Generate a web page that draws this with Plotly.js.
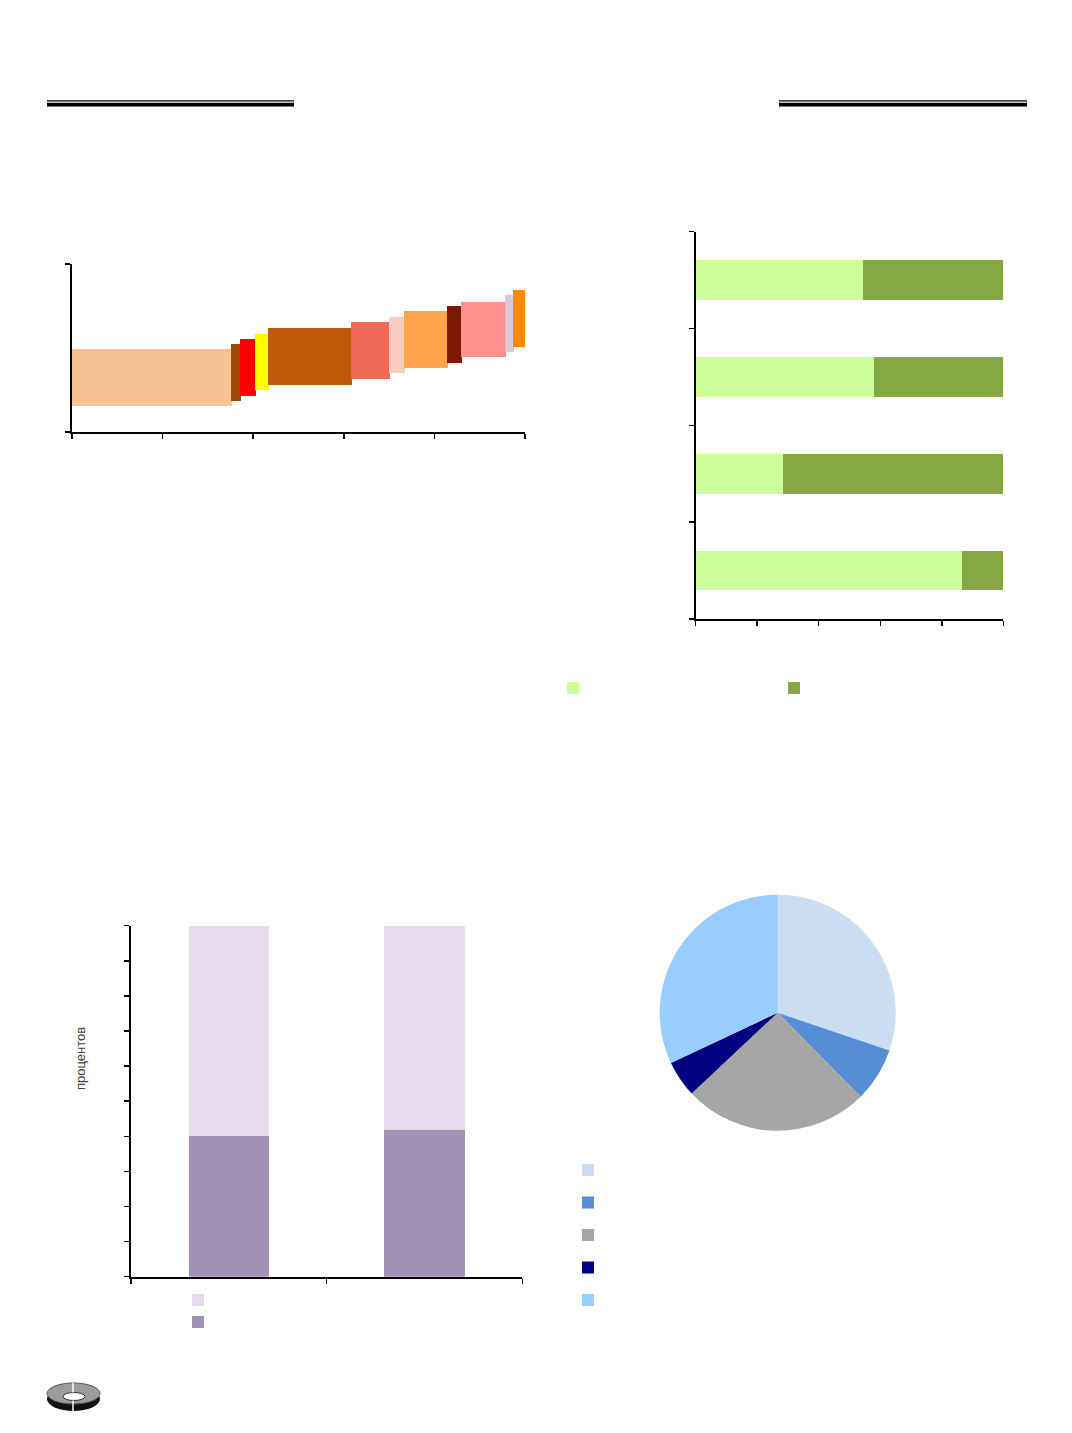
<!DOCTYPE html>
<html><head><meta charset="utf-8">
<script src="https://cdn.plot.ly/plotly-3.0.1.min.js"></script>
<style>html,body{margin:0;padding:0;background:#fff}#chart{width:1072px;height:1433px}</style>
</head><body><div id="chart"></div>
<script>
// ---- Chart 1: floating bars of variable width ----
const costWidths = [35.1, 2.1, 3.4, 2.7, 18.5, 8.3, 3.2, 9.5, 3.2, 9.6, 1.8, 2.6];
const costLow  = [9.4, 11.3, 13.2, 15.1, 17.0, 19.0, 21.1, 22.9, 24.9, 27.0, 28.7, 30.7];
const costHigh = [29.3, 31.3, 33.2, 35.0, 37.0, 39.0, 41.0, 43.0, 44.9, 46.4, 48.8, 50.6];
const costColors = ['#F9C294','#9C4A06','#FF0000','#FFFF00','#C05A0A','#EE6A55',
                    '#FBCAC0','#FDA44C','#7B1A00','#FF9090','#E0C8DC','#FF8A00'];
// ---- Chart 2: horizontal 100% stacked bars (bottom to top) ----
const rowIndex  = [0, 1, 2, 3];
const rowShareA = [86.5, 28.4, 58.1, 54.5];
const rowShareB = [13.5, 71.6, 41.9, 45.5];
// ---- Chart 3: vertical 100% stacked bars ----
const colIndex = [0, 1];
const colShareLower = [40.1, 41.8];
const colShareUpper = [59.9, 58.2];
const colAxisTitle = 'процентов';
// ---- Chart 4: pie ----
const pieShares = [30.2, 7.4, 25.4, 5.0, 32.0];
const pieLabels = ['\u200b', '\u200b\u200b', '\u200b\u200b\u200b', '\u200b\u200b\u200b\u200b', '\u200b\u200b\u200b\u200b\u200b'];
const pieColors = ['#CCDDF2', '#558ED5', '#A6A6A6', '#000080', '#99CCFF'];

const W = 1072, H = 1433;
const PX = p => p / W;
const PY = p => 1 - p / H;

// centres of the variable-width bars
const costCenters = [];
let acc = 0;
costWidths.forEach(w => { costCenters.push(acc + w / 2); acc += w; });
const costSpan = costHigh.map((h, i) => h - costLow[i]);

const traces = [
  { type: 'bar', x: costCenters, y: costSpan, base: costLow, width: costWidths,
    marker: { color: costColors, line: { color: costColors, width: 1 } },
    xaxis: 'x', yaxis: 'y', showlegend: false, hoverinfo: 'skip' },

  { type: 'bar', orientation: 'h', y: rowIndex, x: rowShareA, name: '',
    marker: { color: '#CCFF99', line: { width: 0 } },
    xaxis: 'x2', yaxis: 'y2', legend: 'legend2' },
  { type: 'bar', orientation: 'h', y: rowIndex, x: rowShareB, name: '',
    marker: { color: '#86A844', line: { width: 0 } },
    xaxis: 'x2', yaxis: 'y2', legend: 'legend2' },

  { type: 'bar', x: colIndex, y: colShareLower, name: '',
    marker: { color: '#A491B7', line: { width: 0 } },
    xaxis: 'x3', yaxis: 'y3', legend: 'legend3' },
  { type: 'bar', x: colIndex, y: colShareUpper, name: '',
    marker: { color: '#E6DAEC', line: { width: 0 } },
    xaxis: 'x3', yaxis: 'y3', legend: 'legend3' },

  { type: 'pie', values: pieShares, labels: pieLabels, sort: false,
    direction: 'clockwise', rotation: 0, textinfo: 'none',
    marker: { colors: pieColors, line: { width: 0 } },
    domain: { x: [PX(659.7), PX(895.7)], y: [PY(1130.7), PY(894.7)] },
    legend: 'legend4' }
];

const axBase = { showgrid: false, zeroline: false, showline: true, linecolor: '#000',
  linewidth: 2, ticks: 'outside', ticklen: 5, tickwidth: 1.5, tickcolor: '#000',
  showticklabels: false, fixedrange: true };

const layout = {
  width: W, height: H, margin: { l: 0, r: 0, t: 0, b: 0 },
  paper_bgcolor: '#fff', plot_bgcolor: 'rgba(0,0,0,0)',
  font: { family: 'Liberation Sans, Arial, sans-serif', color: '#404040' },
  barmode: 'stack', bargap: 0.59,
  xaxis:  Object.assign({}, axBase, { domain: [PX(72), PX(525)], range: [0, 100], tick0: 0, dtick: 20, anchor: 'y' }),
  yaxis:  Object.assign({}, axBase, { domain: [PY(432), PY(264)], range: [0, 60], tick0: 0, dtick: 60, anchor: 'x' }),
  xaxis2: Object.assign({}, axBase, { domain: [PX(695.7), PX(1003.3)], range: [0, 100], tick0: 0, dtick: 20, anchor: 'y2' }),
  yaxis2: Object.assign({}, axBase, { domain: [PY(619), PY(231.7)], range: [-0.5, 3.5], tick0: -0.5, dtick: 1, anchor: 'x2' }),
  xaxis3: Object.assign({}, axBase, { domain: [PX(131), PX(522.3)], range: [-0.5, 1.5], tick0: -0.5, dtick: 1, anchor: 'y3' }),
  yaxis3: Object.assign({}, axBase, { domain: [PY(1276.7), PY(925.7)], range: [0, 100], tick0: 0, dtick: 10, anchor: 'x3' }),
  legend2: { orientation: 'h', x: PX(553), y: PY(673.5), xanchor: 'left', yanchor: 'top',
    entrywidth: 176, entrywidthmode: 'pixels', traceorder: 'normal',
    font: { size: 12 }, bgcolor: 'rgba(0,0,0,0)', borderwidth: 0 },
  legend3: { orientation: 'v', x: PX(178), y: PY(1284), xanchor: 'left', yanchor: 'top',
    traceorder: 'reversed', font: { size: 14.6 }, bgcolor: 'rgba(0,0,0,0)', borderwidth: 0 },
  legend4: { orientation: 'v', x: PX(568), y: PY(1148.7), xanchor: 'left', yanchor: 'top',
    traceorder: 'normal', font: { size: 22.7 }, bgcolor: 'rgba(0,0,0,0)', borderwidth: 0 },
  annotations: [
    { text: colAxisTitle, xref: 'paper', yref: 'paper', x: PX(80), y: PY(1059),
      textangle: -90, showarrow: false, xanchor: 'center', yanchor: 'middle',
      font: { size: 13, color: '#404040' } }
  ],
  shapes: [
    // header double rules
    { type: 'line', xref: 'paper', yref: 'paper', x0: PX(47), x1: PX(294), y0: PY(100.8), y1: PY(100.8), line: { color: '#000', width: 1.2 } },
    { type: 'line', xref: 'paper', yref: 'paper', x0: PX(47), x1: PX(294), y0: PY(104.6), y1: PY(104.6), line: { color: '#000', width: 3.6 } },
    { type: 'line', xref: 'paper', yref: 'paper', x0: PX(779), x1: PX(1027), y0: PY(100.8), y1: PY(100.8), line: { color: '#000', width: 1.2 } },
    { type: 'line', xref: 'paper', yref: 'paper', x0: PX(779), x1: PX(1027), y0: PY(104.6), y1: PY(104.6), line: { color: '#000', width: 3.6 } },
    // logo
    { type: 'circle', xref: 'paper', yref: 'paper', x0: PX(47), x1: PX(100), y0: PY(1387), y1: PY(1411), fillcolor: '#111', line: { width: 0 } },
    { type: 'circle', xref: 'paper', yref: 'paper', x0: PX(47), x1: PX(100), y0: PY(1383), y1: PY(1404), fillcolor: '#9c9c9c', line: { color: '#555', width: 1 } },
    { type: 'circle', xref: 'paper', yref: 'paper', x0: PX(63), x1: PX(85), y0: PY(1392.5), y1: PY(1400.5), fillcolor: '#fff', line: { color: '#333', width: 1 } },
    { type: 'line', xref: 'paper', yref: 'paper', x0: PX(73), x1: PX(73), y0: PY(1383), y1: PY(1392.5), line: { color: '#fff', width: 1.5 } },
    { type: 'line', xref: 'paper', yref: 'paper', x0: PX(73), x1: PX(73), y0: PY(1400.5), y1: PY(1411), line: { color: '#fff', width: 1.5 } }
  ]
};

Plotly.newPlot('chart', traces, layout, { staticPlot: true, displayModeBar: false });
</script>
</body></html>
